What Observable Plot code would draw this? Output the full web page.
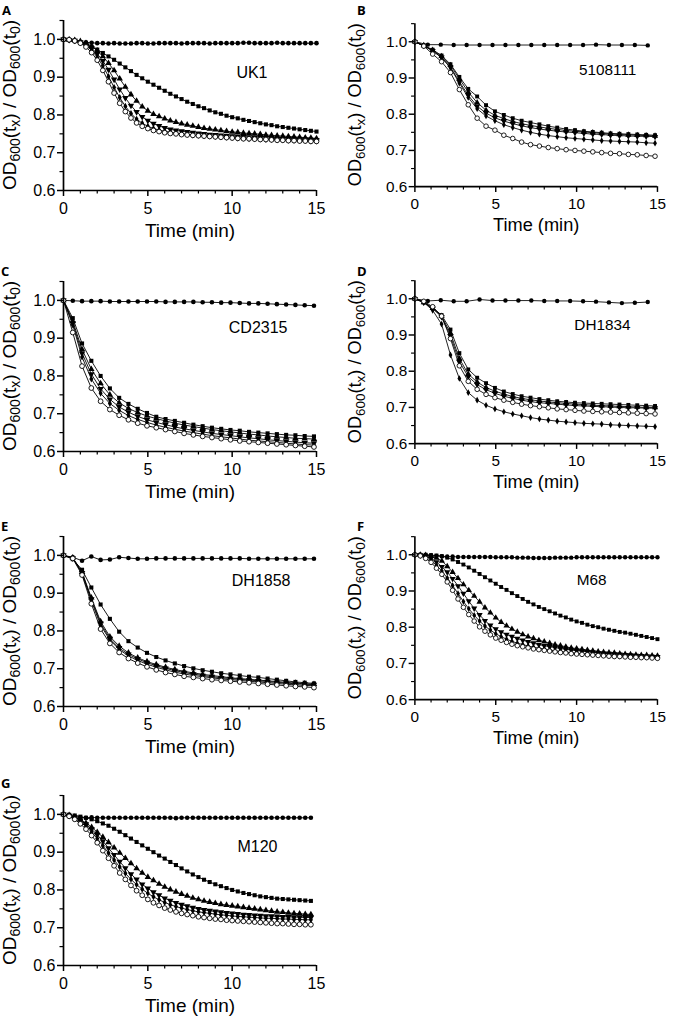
<!DOCTYPE html>
<html><head><meta charset="utf-8">
<script src="https://cdn.jsdelivr.net/npm/d3@7"></script>
<script src="https://cdn.jsdelivr.net/npm/@observablehq/plot@0.6"></script>
<style>
body{margin:0;background:#fff;}
#fig{position:relative;width:680px;height:1018px;overflow:hidden;background:#fff;}
.panel{position:absolute;}
#overlay{position:absolute;left:0;top:0;pointer-events:none;}
</style></head><body><div id="fig"></div>
<script>
// ---------- time grids (min) ----------
const timeA = [0,0.333,0.667,1,1.333,1.667,2,2.333,2.667,3,3.333,3.667,4,4.333,4.667,5,5.333,5.667,6,6.333,6.667,7,7.333,7.667,8,8.333,8.667,9,9.333,9.667,10,10.333,10.667,11,11.333,11.667,12,12.333,12.667,13,13.333,13.667,14,14.333,14.667,15];
const timeB = [0,0.55,1.1,1.65,2.2,2.75,3.3,3.85,4.4,4.95,5.5,6.05,6.6,7.15,7.7,8.25,8.8,9.35,9.9,10.45,11,11.55,12.1,12.65,13.2,13.75,14.3,14.85];
const timeC = [0,0.8,1.6,2.4,3.2,4,4.8,5.6,6.4,7.2,8,8.8,9.6,10.4,11.2,12,12.8,13.6,14.4];
const timeG = timeA.slice(0, 45);

// ---------- panel names ----------
const panelLetters = ["A","B","C","D","E","F","G"];
const strains = ["UK1","5108111","CD2315","DH1834","DH1858","M68","M120"];

// ---------- A: UK1 ----------
const a_ctrl = [1.000,0.998,0.995,0.993,0.992,0.991,0.990,0.990,0.989,0.990,0.989,0.989,0.989,0.990,0.990,0.989,0.989,0.990,0.990,0.990,0.990,0.989,0.990,0.990,0.990,0.990,0.989,0.990,0.990,0.990,0.990,0.990,0.991,0.991,0.990,0.990,0.990,0.990,0.991,0.990,0.990,0.990,0.990,0.990,0.990,0.990];
const a_sq = [1.000,0.999,0.996,0.992,0.987,0.980,0.973,0.964,0.955,0.946,0.936,0.926,0.916,0.906,0.897,0.888,0.880,0.872,0.864,0.856,0.849,0.842,0.835,0.829,0.823,0.818,0.812,0.807,0.803,0.798,0.794,0.791,0.787,0.784,0.781,0.778,0.775,0.773,0.770,0.768,0.766,0.764,0.762,0.760,0.758,0.756];
const a_tri = [1.000,0.999,0.998,0.995,0.990,0.982,0.970,0.955,0.937,0.918,0.896,0.874,0.854,0.837,0.822,0.811,0.802,0.796,0.790,0.785,0.781,0.777,0.774,0.771,0.768,0.765,0.763,0.761,0.759,0.757,0.755,0.754,0.752,0.751,0.750,0.749,0.747,0.746,0.745,0.744,0.743,0.742,0.741,0.740,0.739,0.738];
const a_inv = [1.000,0.999,0.997,0.993,0.987,0.977,0.962,0.943,0.920,0.894,0.868,0.845,0.825,0.808,0.795,0.785,0.777,0.771,0.766,0.762,0.759,0.757,0.755,0.753,0.751,0.750,0.748,0.747,0.746,0.745,0.744,0.743,0.742,0.741,0.740,0.739,0.739,0.738,0.737,0.737,0.736,0.736,0.735,0.735,0.734,0.734];
const a_dia = [1.000,0.999,0.997,0.992,0.984,0.971,0.953,0.930,0.902,0.873,0.846,0.823,0.804,0.789,0.778,0.770,0.764,0.760,0.757,0.754,0.752,0.750,0.749,0.747,0.746,0.745,0.744,0.743,0.742,0.741,0.740,0.739,0.738,0.737,0.737,0.736,0.735,0.735,0.734,0.734,0.733,0.733,0.732,0.732,0.731,0.731];
const a_open = [1.000,0.999,0.996,0.990,0.980,0.965,0.945,0.918,0.888,0.858,0.831,0.809,0.792,0.779,0.770,0.764,0.759,0.756,0.753,0.751,0.750,0.748,0.747,0.746,0.745,0.744,0.743,0.742,0.741,0.740,0.739,0.738,0.737,0.737,0.736,0.735,0.735,0.734,0.733,0.733,0.732,0.732,0.731,0.731,0.730,0.730];

// ---------- B: 5108111 ----------
const b_ctrl = [1.000,0.992,0.992,0.991,0.991,0.991,0.991,0.991,0.991,0.991,0.991,0.991,0.991,0.991,0.992,0.991,0.991,0.991,0.990];
const b_sq = [1.000,0.990,0.978,0.962,0.938,0.903,0.870,0.849,0.825,0.808,0.798,0.789,0.782,0.777,0.772,0.767,0.763,0.759,0.756,0.753,0.751,0.749,0.747,0.746,0.745,0.744,0.743,0.742];
const b_tri = [1.000,0.990,0.977,0.960,0.935,0.898,0.861,0.832,0.811,0.797,0.788,0.780,0.774,0.769,0.765,0.761,0.758,0.755,0.753,0.751,0.749,0.747,0.745,0.744,0.743,0.742,0.741,0.740];
const b_inv = [1.000,0.989,0.975,0.957,0.930,0.890,0.852,0.822,0.803,0.790,0.781,0.774,0.768,0.763,0.759,0.756,0.753,0.751,0.749,0.747,0.745,0.744,0.742,0.741,0.740,0.739,0.739,0.738];
const b_dia = [1.000,0.989,0.975,0.956,0.928,0.886,0.846,0.815,0.795,0.782,0.771,0.763,0.756,0.750,0.745,0.741,0.738,0.735,0.733,0.731,0.729,0.727,0.726,0.725,0.724,0.723,0.721,0.720];
const b_open = [1.000,0.988,0.966,0.945,0.915,0.868,0.826,0.789,0.767,0.756,0.742,0.733,0.723,0.716,0.712,0.708,0.705,0.702,0.700,0.698,0.696,0.694,0.692,0.691,0.689,0.688,0.686,0.684];

// ---------- C: CD2315 ----------
const c_ctrl = [1.000,0.999,0.998,0.998,0.998,0.997,0.997,0.997,0.997,0.997,0.997,0.996,0.996,0.996,0.996,0.995,0.995,0.994,0.994,0.993,0.992,0.992,0.991,0.990,0.989,0.988,0.987,0.986];
const c_sq = [1.000,0.953,0.886,0.840,0.800,0.767,0.742,0.726,0.713,0.702,0.692,0.686,0.681,0.676,0.671,0.667,0.663,0.660,0.657,0.655,0.652,0.650,0.648,0.646,0.644,0.643,0.641,0.640];
const c_tri = [1.000,0.945,0.870,0.818,0.780,0.750,0.729,0.714,0.703,0.694,0.687,0.681,0.675,0.670,0.666,0.662,0.658,0.655,0.652,0.649,0.646,0.644,0.641,0.639,0.637,0.635,0.634,0.633];
const c_inv = [1.000,0.940,0.860,0.805,0.766,0.738,0.718,0.704,0.693,0.684,0.677,0.671,0.665,0.660,0.656,0.652,0.648,0.645,0.642,0.639,0.636,0.634,0.631,0.629,0.627,0.625,0.623,0.622];
const c_dia = [1.000,0.935,0.850,0.792,0.754,0.727,0.709,0.695,0.685,0.677,0.670,0.664,0.659,0.654,0.650,0.646,0.642,0.639,0.636,0.633,0.630,0.628,0.626,0.624,0.622,0.620,0.618,0.617];
const c_open = [1.000,0.915,0.826,0.768,0.733,0.711,0.696,0.684,0.675,0.668,0.663,0.658,0.653,0.648,0.644,0.640,0.637,0.634,0.631,0.628,0.626,0.624,0.622,0.620,0.618,0.616,0.614,0.612];

// ---------- D: DH1834 ----------
const d_ctrl = [1.000,0.994,0.996,0.993,0.993,0.998,0.995,0.995,0.995,0.995,0.994,0.994,0.994,0.993,0.992,0.990,0.988,0.989,0.991];
const d_sq = [1.000,0.990,0.975,0.955,0.915,0.850,0.805,0.782,0.767,0.754,0.744,0.737,0.731,0.727,0.723,0.720,0.717,0.715,0.713,0.712,0.711,0.710,0.709,0.708,0.707,0.706,0.705,0.704];
const d_tri = [1.000,0.990,0.974,0.952,0.905,0.835,0.792,0.770,0.755,0.745,0.737,0.730,0.725,0.721,0.718,0.715,0.713,0.711,0.709,0.708,0.706,0.705,0.704,0.703,0.702,0.701,0.700,0.700];
const d_inv = [1.000,0.990,0.973,0.950,0.897,0.826,0.785,0.763,0.749,0.739,0.731,0.725,0.720,0.716,0.713,0.711,0.709,0.707,0.705,0.704,0.703,0.702,0.701,0.700,0.699,0.699,0.698,0.698];
const d_dia = [1.000,0.990,0.968,0.930,0.845,0.780,0.741,0.720,0.706,0.696,0.688,0.682,0.677,0.672,0.668,0.665,0.662,0.660,0.658,0.656,0.655,0.654,0.652,0.651,0.650,0.649,0.648,0.647];
const d_open = [1.000,0.993,0.978,0.952,0.890,0.815,0.772,0.750,0.736,0.727,0.720,0.714,0.709,0.705,0.702,0.699,0.696,0.694,0.692,0.690,0.689,0.688,0.687,0.686,0.685,0.684,0.683,0.682];

// ---------- E: DH1858 ----------
const e_ctrl = [1.000,0.995,0.986,0.997,0.988,0.989,0.995,0.993,0.991,0.991,0.992,0.992,0.992,0.992,0.992,0.992,0.992,0.992,0.992,0.992,0.991,0.991,0.991,0.991,0.991,0.991,0.991,0.991];
const e_sq = [1.000,0.990,0.962,0.915,0.870,0.832,0.798,0.773,0.756,0.742,0.731,0.722,0.714,0.707,0.701,0.696,0.692,0.688,0.685,0.682,0.679,0.677,0.674,0.671,0.668,0.665,0.663,0.661];
const e_tri = [1.000,0.994,0.956,0.888,0.825,0.785,0.760,0.742,0.729,0.719,0.711,0.704,0.698,0.693,0.689,0.685,0.682,0.679,0.676,0.674,0.672,0.670,0.668,0.666,0.664,0.662,0.660,0.659];
const e_inv = [1.000,0.993,0.954,0.884,0.820,0.780,0.755,0.738,0.726,0.716,0.708,0.701,0.695,0.690,0.686,0.682,0.679,0.676,0.674,0.672,0.670,0.668,0.666,0.664,0.662,0.660,0.659,0.658];
const e_dia = [1.000,0.993,0.952,0.880,0.815,0.776,0.751,0.734,0.722,0.712,0.704,0.697,0.691,0.686,0.682,0.679,0.676,0.673,0.671,0.669,0.667,0.665,0.663,0.661,0.659,0.657,0.656,0.655];
const e_open = [1.000,0.992,0.948,0.872,0.805,0.767,0.743,0.727,0.715,0.705,0.697,0.690,0.685,0.680,0.677,0.674,0.671,0.669,0.667,0.665,0.663,0.661,0.659,0.657,0.655,0.653,0.652,0.650];

// ---------- F: M68 ----------
const f_ctrl = [1.000,1.000,0.999,0.998,0.997,0.996,0.995,0.995,0.994,0.994,0.994,0.994,0.994,0.994,0.994,0.993,0.993,0.993,0.993,0.992,0.992,0.992,0.991,0.991,0.991,0.991,0.992,0.992,0.992,0.992,0.993,0.993,0.993,0.993,0.993,0.993,0.993,0.993,0.993,0.993,0.993,0.993,0.993,0.993,0.993,0.993];
const f_sq = [1.000,1.000,1.000,0.999,0.998,0.996,0.992,0.987,0.980,0.973,0.965,0.956,0.947,0.938,0.929,0.920,0.911,0.903,0.894,0.886,0.878,0.870,0.863,0.856,0.850,0.844,0.838,0.832,0.827,0.821,0.816,0.812,0.807,0.803,0.800,0.796,0.793,0.790,0.787,0.785,0.782,0.779,0.776,0.773,0.770,0.767];
const f_tri = [1.000,1.000,0.999,0.996,0.991,0.983,0.968,0.952,0.935,0.918,0.902,0.886,0.870,0.854,0.840,0.826,0.814,0.804,0.795,0.787,0.780,0.774,0.769,0.764,0.760,0.756,0.752,0.749,0.746,0.743,0.741,0.739,0.737,0.735,0.733,0.731,0.730,0.729,0.727,0.726,0.725,0.724,0.723,0.723,0.722,0.721];
const f_inv = [1.000,0.999,0.996,0.990,0.980,0.967,0.952,0.934,0.914,0.893,0.872,0.852,0.834,0.818,0.805,0.795,0.787,0.780,0.774,0.769,0.764,0.760,0.756,0.752,0.749,0.746,0.744,0.741,0.739,0.737,0.735,0.734,0.732,0.731,0.729,0.728,0.727,0.726,0.725,0.724,0.723,0.722,0.721,0.720,0.719,0.718];
const f_dia = [1.000,0.998,0.993,0.984,0.971,0.955,0.936,0.915,0.893,0.871,0.851,0.833,0.817,0.803,0.792,0.782,0.774,0.767,0.761,0.756,0.752,0.748,0.745,0.742,0.740,0.737,0.735,0.733,0.731,0.730,0.728,0.727,0.726,0.725,0.724,0.723,0.722,0.721,0.720,0.720,0.719,0.718,0.718,0.717,0.717,0.716];
const f_open = [1.000,0.997,0.990,0.979,0.963,0.946,0.925,0.902,0.878,0.855,0.835,0.817,0.801,0.789,0.779,0.770,0.764,0.758,0.753,0.749,0.746,0.743,0.740,0.738,0.736,0.734,0.732,0.730,0.729,0.727,0.726,0.725,0.724,0.723,0.722,0.721,0.720,0.719,0.719,0.718,0.717,0.717,0.716,0.716,0.715,0.714];

// ---------- G: M120 ----------
const g_ctrl = [1.000,0.996,0.993,0.992,0.991,0.992,0.991,0.991,0.991,0.991,0.991,0.991,0.991,0.991,0.991,0.991,0.991,0.991,0.991,0.991,0.990,0.991,0.991,0.991,0.991,0.991,0.991,0.991,0.991,0.991,0.991,0.991,0.991,0.991,0.991,0.991,0.991,0.991,0.991,0.991,0.991,0.991,0.991,0.991,0.991];
const g_sq = [1.000,0.999,0.997,0.994,0.991,0.987,0.982,0.976,0.970,0.962,0.954,0.945,0.936,0.927,0.918,0.909,0.900,0.891,0.883,0.874,0.866,0.857,0.849,0.841,0.834,0.827,0.821,0.815,0.810,0.805,0.800,0.796,0.792,0.789,0.786,0.783,0.781,0.779,0.777,0.776,0.775,0.774,0.773,0.772,0.771];
const g_tri = [1.000,0.998,0.993,0.986,0.977,0.966,0.953,0.940,0.926,0.912,0.898,0.884,0.870,0.857,0.845,0.834,0.825,0.816,0.808,0.801,0.795,0.789,0.784,0.779,0.775,0.771,0.768,0.765,0.762,0.760,0.758,0.756,0.754,0.752,0.750,0.748,0.746,0.744,0.742,0.741,0.739,0.738,0.737,0.736,0.735];
const g_inv = [1.000,0.997,0.992,0.984,0.974,0.961,0.946,0.929,0.911,0.893,0.875,0.858,0.842,0.828,0.815,0.804,0.794,0.786,0.778,0.772,0.766,0.761,0.757,0.753,0.750,0.747,0.745,0.743,0.741,0.739,0.738,0.737,0.735,0.734,0.733,0.732,0.731,0.731,0.730,0.729,0.729,0.728,0.728,0.727,0.727];
const g_dia = [1.000,0.996,0.990,0.980,0.968,0.953,0.936,0.917,0.898,0.879,0.861,0.844,0.828,0.814,0.802,0.791,0.782,0.774,0.767,0.761,0.756,0.752,0.748,0.745,0.742,0.740,0.738,0.736,0.734,0.733,0.731,0.730,0.729,0.728,0.727,0.726,0.725,0.725,0.724,0.723,0.723,0.722,0.722,0.721,0.721];
const g_open = [1.000,0.995,0.987,0.975,0.961,0.944,0.925,0.904,0.884,0.864,0.845,0.828,0.812,0.798,0.786,0.775,0.766,0.759,0.752,0.747,0.742,0.738,0.735,0.732,0.729,0.727,0.725,0.723,0.722,0.720,0.719,0.718,0.717,0.716,0.715,0.714,0.713,0.712,0.711,0.711,0.710,0.709,0.709,0.708,0.708];

// ---------- axis ticks ----------
const xMajor = [0, 5, 10, 15];
const xMinor = [1,2,3,4,6,7,8,9,11,12,13,14];
const yMajor = [0.6, 0.7, 0.8, 0.9, 1.0];
const yMinor = [0.65, 0.75, 0.85, 0.95, 1.05];

// ---------- assemble panels ----------
const panelData = [
  {time: timeA, ctrlTime: timeA, series: [a_ctrl,a_sq,a_tri,a_inv,a_dia,a_open]},
  {time: timeB, ctrlTime: timeC, series: [b_ctrl,b_sq,b_tri,b_inv,b_dia,b_open]},
  {time: timeB, ctrlTime: timeB, series: [c_ctrl,c_sq,c_tri,c_inv,c_dia,c_open]},
  {time: timeB, ctrlTime: timeC, series: [d_ctrl,d_sq,d_tri,d_inv,d_dia,d_open]},
  {time: timeB, ctrlTime: timeB, series: [e_ctrl,e_sq,e_tri,e_inv,e_dia,e_open]},
  {time: timeA, ctrlTime: timeA, series: [f_ctrl,f_sq,f_tri,f_inv,f_dia,f_open]},
  {time: timeG, ctrlTime: timeG, series: [g_ctrl,g_sq,g_tri,g_inv,g_dia,g_open]}
];

// layout (pixels): svg position, letter baseline, strain label offsets
const layout = [
  {left:0,   top:0,   lx:2,   ly:15,  sdx:-49, sdy:52, ylx:16},
  {left:354, top:4,   lx:357, ly:15,  sdx:-22, sdy:48, ylx:7},
  {left:0,   top:261, lx:1,   ly:276, sdx:-29, sdy:46, ylx:16},
  {left:354, top:261, lx:357, ly:276, sdx:-28, sdy:46, ylx:7},
  {left:0,   top:516, lx:1,   ly:531, sdx:-26, sdy:44, ylx:16},
  {left:354, top:517, lx:357, ly:531, sdx:-53, sdy:45, ylx:7},
  {left:0,   top:775, lx:1,   ly:788, sdx:-39, sdy:51, ylx:16}
];

const sqrt3 = Math.sqrt(3);
const triangleDown = {
  draw(context, size) {
    const y = -Math.sqrt(size / (sqrt3 * 3));
    context.moveTo(0, -y * 2);
    context.lineTo(-sqrt3 * y, y);
    context.lineTo(sqrt3 * y, y);
    context.closePath();
  }
};
const seriesStyle = [
  {symbol: "circle", fill: "black", stroke: "none", r: 2.3},
  {symbol: "square", fill: "black", stroke: "none", r: 2.3},
  {symbol: "triangle", fill: "black", stroke: "none", r: 2.4},
  {symbol: triangleDown, fill: "black", stroke: "none", r: 2.4},
  {symbol: "diamond", fill: "black", stroke: "none", r: 2.1},
  {symbol: "circle", fill: "white", stroke: "black", r: 2.4}
];

const fig = document.getElementById("fig");
const FONT = "'Liberation Sans', Arial, Helvetica, sans-serif";

panelData.forEach((p, k) => {
  const L = layout[k];
  const rows = [];
  p.series.forEach((vals, si) => {
    const T = si === 0 ? p.ctrlTime : p.time;
    vals.forEach((v, i) => rows.push({t: T[i], v: v, s: si}));
  });
  const marks = [
    Plot.line(rows, {x: "t", y: "v", z: "s", stroke: "black", strokeWidth: 0.9}),
    ...seriesStyle.map((st, si) => Plot.dot(rows.filter(d => d.s === si), {
      x: "t", y: "v", symbol: st.symbol, fill: st.fill, stroke: st.stroke, strokeWidth: 0.9, r: st.r
    })),
    Plot.ruleY([0.6], {strokeWidth: 1.7}),
    Plot.ruleX([0], {strokeWidth: 1.7}),
    Plot.axisX({ticks: xMajor, tickSize: 6, tickPadding: 6, strokeWidth: 1.5, tickFormat: d => String(d), label: null, fontSize: 16}),
    Plot.axisX({ticks: xMinor, tickSize: 3.5, strokeWidth: 1.2, tickFormat: () => "", label: null}),
    Plot.axisY({ticks: yMajor, tickSize: 6, tickPadding: 2, strokeWidth: 1.5, tickFormat: d => d.toFixed(1), label: null, fontSize: 16}),
    Plot.axisY({ticks: yMinor, tickSize: 3.5, strokeWidth: 1.2, tickFormat: () => "", label: null}),
    Plot.text([strains[k]], {frameAnchor: "top-right", textAnchor: "end", lineAnchor: "middle", dx: L.sdx, dy: L.sdy, fontSize: 16}),
    Plot.text(["Time (min)"], {frameAnchor: "bottom", lineAnchor: "middle", dy: 40, fontSize: 19})
  ];
  const svg = Plot.plot({
    width: 340, height: 250,
    marginLeft: 63, marginRight: 24, marginTop: 20, marginBottom: 60,
    x: {domain: [0, 15]},
    y: {domain: [0.6, 1.05]},
    style: {fontFamily: FONT, fontSize: "16px", color: "black", background: "transparent", overflow: "visible"},
    marks
  });
  // y axis title with subscripts
  const t = d3.select(svg).append("text")
    .attr("transform", `translate(${L.ylx},105) rotate(-90)`)
    .attr("text-anchor", "middle")
    .attr("font-family", FONT)
    .attr("font-size", 19)
    .attr("fill", "black");
  const parts = [["OD",0,19],["600",4,14],["(t",-4,19],["x",4,14],[") / OD",-4,19],["600",4,14],["(t",-4,19],["0",4,14],[")",-4,19]];
  parts.forEach(([s, dy, fs]) => t.append("tspan").attr("dy", dy).attr("font-size", fs).text(s));

  const holder = document.createElement("div");
  holder.className = "panel";
  holder.style.left = L.left + "px";
  holder.style.top = L.top + "px";
  holder.appendChild(svg);
  fig.appendChild(holder);
});

// panel letters
const overlay = d3.select(fig).append("svg").attr("id", "overlay").attr("width", 680).attr("height", 1018);
panelLetters.forEach((s, k) => {
  overlay.append("text").attr("x", layout[k].lx).attr("y", layout[k].ly)
    .attr("font-family", "'Open Sans', sans-serif").attr("font-weight", 700).attr("font-size", 13)
    .attr("fill", "black").text(s);
});
</script>
</body></html>
